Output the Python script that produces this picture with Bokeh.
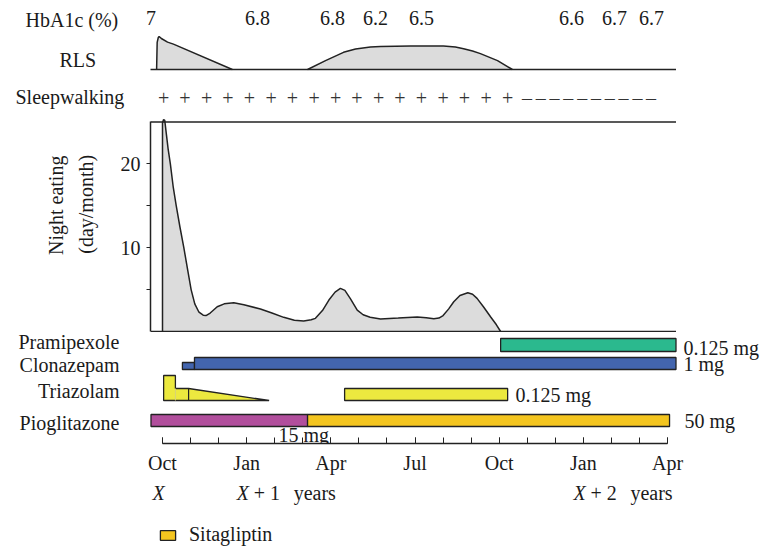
from bokeh.plotting import figure
from bokeh.models import (Range1d, LinearAxis, FixedTicker, Legend, LegendItem)
from bokeh.layouts import column, row
from bokeh.core.properties import value
from bokeh.embed import file_html
from bokeh.resources import INLINE
import math

# ---------------- data ----------------
MONTH_TICKS = [0, 3, 6, 9, 12, 15, 18]
MONTH_NAMES = ["Oct", "Jan", "Apr", "Jul", "Oct", "Jan", "Apr"]
MONTH_MINOR = list(range(19))
YEAR_MONTHS = [0, 3, 15]
YEAR_SUFFIX = ["", "+ 1", "+ 2"]

HBA1C_MONTH = [-0.41, 3.39, 6.06, 7.59, 9.23, 14.58, 16.11, 17.43]
HBA1C_VALUE = ["7", "6.8", "6.8", "6.2", "6.5", "6.6", "6.7", "6.7"]

RLS1_MONTH = [-0.21, -0.20, -0.19, -0.15, -0.12, -0.04, 0.18, 0.39, 2.49]
RLS1_LEVEL = [0, 0.42, 0.82, 0.97, 1.0, 0.94, 0.83, 0.77, 0]
RLS2_MONTH = [5.17, 5.81, 6.45, 6.88, 7.41, 7.77, 8.84, 10.01, 10.44, 10.73, 11.05, 11.33, 11.94, 12.47]
RLS2_LEVEL = [0, 0.27, 0.52, 0.62, 0.68, 0.70, 0.71, 0.71, 0.68, 0.63, 0.56, 0.48, 0.27, 0]

SLEEPWALK_YES = [0.04, 0.80, 1.57, 2.33, 3.10, 3.87, 4.63, 5.40, 6.17, 6.93,
                 7.70, 8.46, 9.23, 10.00, 10.76, 11.53, 12.30]
SLEEPWALK_NO = [12.99, 13.48, 13.97, 14.46, 14.96, 15.45, 15.94, 16.43, 16.93, 17.41]

NE_MONTH = [0.0, 0.0, 0.04, 0.08, 0.14, 0.20, 0.28, 0.38, 0.49, 0.62, 0.76, 0.90, 1.02,
            1.15, 1.30, 1.45, 1.55, 1.70, 1.95, 2.20, 2.54, 2.90, 3.49, 3.90, 4.32, 4.70,
            5.03, 5.30, 5.45, 5.70, 5.93, 6.15, 6.34, 6.50, 6.70, 6.94, 7.15, 7.40, 7.77,
            8.40, 9.08, 9.40, 9.67, 9.85, 10.00, 10.20, 10.38, 10.60, 10.88, 11.05, 11.21,
            11.45, 11.69, 11.90, 12.05]
NE_DAYS = [0, 24.9, 25.3, 25.2, 23.5, 21.8, 20.0, 17.3, 15.0, 12.5, 10.0, 7.3, 5.0,
           3.3, 2.3, 1.95, 1.9, 2.2, 2.95, 3.3, 3.43, 3.2, 2.68, 2.2, 1.69, 1.35,
           1.25, 1.4, 1.57, 2.5, 3.75, 4.7, 5.14, 4.9, 3.9, 2.56, 2.0, 1.7, 1.5,
           1.6, 1.73, 1.65, 1.53, 1.6, 1.9, 2.7, 3.55, 4.3, 4.62, 4.45, 3.95,
           2.9, 1.76, 0.8, 0]
NE_TICKS = [10, 20]
NE_MINOR = [5, 15]
NE_MAX = 25

PANEL_END = 18.3
PRAMIPEXOLE = (12.05, 18.3)
CLONAZEPAM_LOW = (0.71, 1.14)
CLONAZEPAM = (1.14, 18.3)
TRIAZOLAM_1 = (0.04, 0.46, 0.93, 3.80)   # start, step down, taper start, end
TRIAZOLAM_2 = (6.49, 12.30)
PIOGLITAZONE = (-0.41, 5.17)
SITAGLIPTIN = (5.17, 18.07)

# ---------------- layout / style ----------------
FONT = "Liberation Serif"
FS = "20px"
INK = "#222222"
TXT = "#1a1a1a"
GRAY = "#dcdcdc"
W = 760
PX_PER_MONTH = 28.06
X0 = 162          # screen x of month 0
AX_LEFT = 150     # left edge of night-eating panel
TEXT_DY = 6       # rendered glyph baseline sits this much below the anchor

# vertical bands (screen px)
TOP_H = 118
NE_TOP, NE_BOT = 118, 332.5
BOT_FRAME_BOT, BOT_END = 443, 480
LEG_END = 548
NE_ZERO, NE_PX = 331.5, 8.4
RLS_ZERO, RLS_PX = 69.0, 33.0


def mx(xs):
    return (xs - X0) / PX_PER_MONTH


def base_fig(width, height, x_range, y_range, **kw):
    f = figure(width=width, height=height, x_range=x_range, y_range=y_range,
               x_axis_type=None, y_axis_type=None, output_backend="svg",
               toolbar_location=None, min_border_left=kw.pop("min_border_left", 0),
               min_border_right=0, min_border_top=0,
               min_border_bottom=kw.pop("min_border_bottom", 0), **kw)
    f.outline_line_color = None
    f.background_fill_color = "white"
    f.border_fill_color = "white"
    return f


def txt(f, xs, ys, texts, align="left", style="normal", angle=0.0, color=TXT):
    f.text(x=xs, y=[y + TEXT_DY for y in ys], text=texts, text_font=value(FONT),
           text_font_size=FS, text_align=align, text_baseline="alphabetic",
           text_color=color, text_font_style=style, angle=angle)


# ======== top: HbA1c, RLS, sleepwalking ========
top = base_fig(W, TOP_H, Range1d(mx(0), mx(W)), Range1d(0, TOP_H))
top.extra_y_ranges = {"rls": Range1d((RLS_ZERO - TOP_H) / RLS_PX, RLS_ZERO / RLS_PX)}
ty = lambda ys: TOP_H - ys

txt(top, [mx(25)], [ty(25)], ["HbA1c (%)"])
txt(top, HBA1C_MONTH, [ty(23.5)] * len(HBA1C_MONTH), HBA1C_VALUE, align="center")
txt(top, [mx(59)], [ty(65)], ["RLS"])
for xs, ys in ((RLS1_MONTH, RLS1_LEVEL), (RLS2_MONTH, RLS2_LEVEL)):
    top.varea(x=xs, y1=[0] * len(xs), y2=ys, fill_color=GRAY, y_range_name="rls")
    top.line(xs, ys, line_color=INK, line_width=1.5, y_range_name="rls")
top.segment(x0=[mx(AX_LEFT)], x1=[PANEL_END], y0=[0], y1=[0], line_color=INK,
            line_width=1.5, y_range_name="rls")
txt(top, [mx(15)], [ty(102)], ["Sleepwalking"])
txt(top, SLEEPWALK_YES, [ty(103)] * len(SLEEPWALK_YES), ["+"] * len(SLEEPWALK_YES),
    align="center", color="#333333")
txt(top, SLEEPWALK_NO, [ty(103)] * len(SLEEPWALK_NO), ["\u2013"] * len(SLEEPWALK_NO),
    align="center", color="#333333")

# ======== night eating ========
NE_H = NE_BOT - NE_TOP
LAB_W = 116
nel = base_fig(LAB_W, int(round(NE_H)), Range1d(0, LAB_W), Range1d(0, NE_H))
nel.text(x=[55, 91 - TEXT_DY], y=[NE_BOT - 205, NE_BOT - 204],
         text=["Night eating", "(day/month)"], text_font=value(FONT), text_font_size=FS,
         text_align="center", text_baseline="alphabetic", text_color=TXT, angle=math.pi / 2)

ne = base_fig(W - LAB_W, int(round(NE_H)), Range1d(mx(AX_LEFT), mx(W)),
              Range1d((NE_ZERO - NE_BOT) / NE_PX, (NE_ZERO - NE_TOP) / NE_PX),
              min_border_left=AX_LEFT - LAB_W)
ne.varea(x=NE_MONTH, y1=[0] * len(NE_MONTH), y2=NE_DAYS, fill_color=GRAY)
ne.line(NE_MONTH, NE_DAYS, line_color=INK, line_width=1.5)
ne.segment(x0=[mx(AX_LEFT)] * 2, x1=[PANEL_END] * 2, y0=[0, NE_MAX], y1=[0, NE_MAX],
           line_color=INK, line_width=1.5)
yax = LinearAxis(ticker=FixedTicker(ticks=NE_TICKS, minor_ticks=NE_MINOR),
                 bounds=(0, NE_MAX), axis_line_color=INK, axis_line_width=1.5,
                 major_tick_in=0, major_tick_out=4, minor_tick_in=0, minor_tick_out=4,
                 major_tick_line_color=INK, minor_tick_line_color=INK,
                 major_label_standoff=6, major_label_text_font=FONT,
                 major_label_text_font_size=FS, major_label_text_color=TXT)
ne.add_layout(yax, "left")

# ======== drugs + time axis ========
BOT_TOP = TOP_H + int(round(NE_H))
BOT_H = BOT_END - BOT_TOP
bot = base_fig(W, BOT_H, Range1d(mx(0), mx(W)), Range1d(0, BOT_FRAME_BOT - BOT_TOP),
               min_border_bottom=BOT_END - BOT_FRAME_BOT)
by = lambda ys: BOT_FRAME_BOT - ys
bar = dict(line_color=INK, line_width=1.3)
bot.quad(left=[PRAMIPEXOLE[0]], right=[PRAMIPEXOLE[1]], bottom=[by(351)], top=[by(338)],
         fill_color="#2bb98e", **bar)
bot.quad(left=[CLONAZEPAM_LOW[0]], right=[CLONAZEPAM_LOW[1]], bottom=[by(369)], top=[by(362)],
         fill_color="#4365ae", **bar)
bot.quad(left=[CLONAZEPAM[0]], right=[CLONAZEPAM[1]], bottom=[by(369)], top=[by(357)],
         fill_color="#4365ae", **bar)
t0, t1, t2, t3 = TRIAZOLAM_1
bot.patch(x=[t0, t0, t1, t1, t2, t3],
          y=[by(400), by(375), by(375), by(388), by(388), by(400)],
          fill_color="#ece93f", **bar)
bot.segment(x0=[t2], x1=[t2], y0=[by(400)], y1=[by(388)], line_color=INK, line_width=1.2)
bot.segment(x0=[t1], x1=[t1], y0=[by(400)], y1=[by(388)], line_color="#d6d27a", line_width=1)
bot.quad(left=[TRIAZOLAM_2[0]], right=[TRIAZOLAM_2[1]], bottom=[by(400)], top=[by(388)],
         fill_color="#ece93f", **bar)
bot.quad(left=[PIOGLITAZONE[0]], right=[PIOGLITAZONE[1]], bottom=[by(426)], top=[by(414)],
         fill_color="#b14e9c", **bar)
bot.quad(left=[SITAGLIPTIN[0]], right=[SITAGLIPTIN[1]], bottom=[by(426)], top=[by(414)],
         fill_color="#f4c51f", **bar)

txt(bot, [mx(119)] * 4, [by(347), by(370), by(396), by(428)],
    ["Pramipexole", "Clonazepam", "Triazolam", "Pioglitazone"], align="right")
txt(bot, [mx(683), mx(683), mx(515), mx(684), mx(278)],
    [by(353), by(369), by(400), by(426), by(440)],
    ["0.125 mg", "1 mg", "0.125 mg", "50 mg", "15 mg"])

xax = LinearAxis(ticker=FixedTicker(ticks=MONTH_TICKS, minor_ticks=MONTH_MINOR),
                 bounds=(0, 18), axis_line_color=INK, axis_line_width=1.3,
                 major_tick_in=6, major_tick_out=0, minor_tick_in=6, minor_tick_out=0,
                 major_tick_line_color=INK, minor_tick_line_color=INK,
                 major_label_standoff=8, major_label_text_font=FONT,
                 major_label_text_font_size=FS, major_label_text_align="left",
                 major_label_text_color=TXT,
                 major_label_overrides={t: n for t, n in zip(MONTH_TICKS, MONTH_NAMES)})
bot.add_layout(xax, "below")

# ======== years + legend ========
LEG_H = LEG_END - BOT_END
leg = base_fig(W, LEG_H, Range1d(mx(0), mx(W)), Range1d(0, LEG_H))
ly = lambda ys: LEG_END - ys
for m, suf in zip(YEAR_MONTHS, YEAR_SUFFIX):
    xs = X0 + m * PX_PER_MONTH - 10
    txt(leg, [mx(xs)], [ly(498)], ["X"], style="italic")
    if suf:
        txt(leg, [mx(xs + 17), mx(xs + 57)], [ly(498)] * 2, [suf, "years"])

# sitagliptin period again, kept above this strip's view, only to key the legend
leg_r = leg.quad(left=[SITAGLIPTIN[0]], right=[SITAGLIPTIN[1]], bottom=[LEG_H + 10],
                 top=[LEG_H + 22], fill_color="#f4c51f", **bar)
legend = Legend(items=[LegendItem(label="Sitagliptin", renderers=[leg_r])],
                location=(158, 2), padding=0, margin=0, glyph_width=19, glyph_height=12,
                label_standoff=12, label_text_font=FONT, label_text_font_size=FS,
                label_text_color=TXT, border_line_alpha=0, background_fill_alpha=0)
leg.add_layout(legend)

layout = column(top, row(nel, ne), bot, leg)
open("out.html", "w").write(file_html(layout, INLINE))
